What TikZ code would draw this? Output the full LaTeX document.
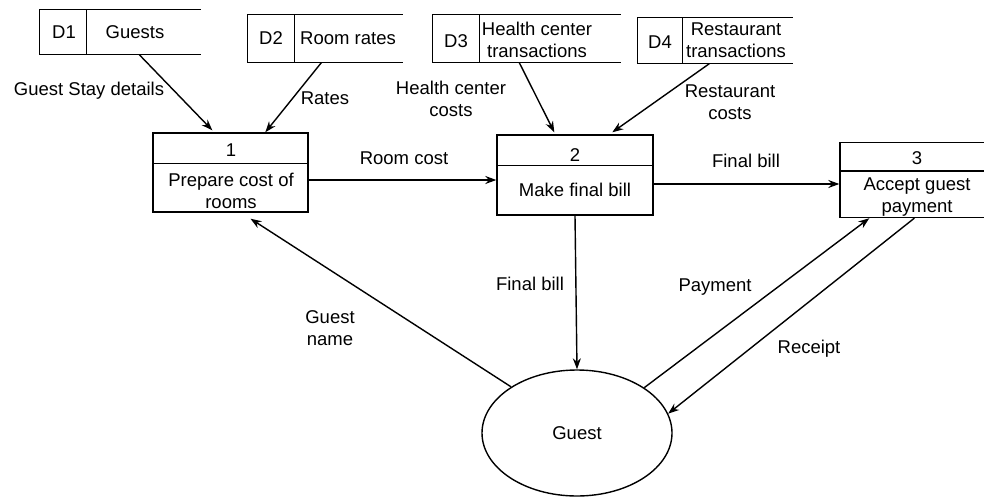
\documentclass[tikz,border=0pt]{standalone}
\usepackage{fontspec}
\setmainfont{Liberation Sans}
\usetikzlibrary{arrows.meta,shapes.geometric,calc}
\begin{document}
\begin{tikzpicture}[x=1pt,y=-1pt,line width=1.4pt,
  flow/.style={-{Stealth[length=11pt,width=8pt]}},
  lbl/.style={font=\fontsize{18.5}{21.5}\selectfont,align=center,inner sep=0pt},
  proc/.style={draw,rectangle,inner sep=0pt},
  store/.style={rectangle,inner sep=0pt}]
\useasboundingbox (0,0) rectangle (984,500);
\clip (0,0) rectangle (984,500);
\fill[white] (0,0) rectangle (984,500);

% data stores (open on the right)
\node[store,minimum width=160pt,minimum height=44pt] (d1) at (120,32) {};
\node[store,minimum width=154pt,minimum height=47pt] (d2) at (325,38.5) {};
\node[store,minimum width=187pt,minimum height=47pt] (d3) at (526.5,38.5) {};
\node[store,minimum width=154pt,minimum height=45pt] (d4) at (715,40.5) {};
\foreach \s/\dv in {d1/47,d2/47,d3/47,d4/45}{
  \draw (\s.north east) -- (\s.north west) -- (\s.south west) -- (\s.south east);
  \draw ($(\s.north west)+(\dv,0)$) -- ($(\s.south west)+(\dv,0)$);
}
\node[lbl] (d1id) at (64,32) {D1};
\node[lbl] (d1t) at (135,32) {Guests};
\node[lbl] (d2id) at (271,38) {D2};
\node[lbl] (d2t) at (348,38) {Room rates};
\node[lbl] (d3id) at (456,41) {D3};
\node[lbl] (d3t) at (537,40) {Health center\\transactions};
\node[lbl] (d4id) at (660,42) {D4};
\node[lbl] (d4t) at (736,40) {Restaurant\\transactions};

% processes
\node[proc,minimum width=155pt,minimum height=79pt] (p1) at (230.5,172.5) {};
\node[proc,minimum width=156pt,minimum height=80pt] (p2) at (575,175) {};
\node[proc,minimum width=156pt,minimum height=75pt] (p3) at (918,180) {};
\draw ($(p1.north west)+(0,31)$) -- ($(p1.north east)+(0,31)$);
\draw ($(p2.north west)+(0,31)$) -- ($(p2.north east)+(0,31)$);
\draw ($(p3.north west)+(0,29)$) -- ($(p3.north east)+(0,29)$);
\node[lbl] (p1n) at (231,150) {1};
\node[lbl] (p1t) at (231,191) {Prepare cost of\\rooms};
\node[lbl] (p2n) at (575,155) {2};
\node[lbl] (p2t) at (575,190) {Make final bill};
\node[lbl] (p3n) at (917,158) {3};
\node[lbl] (p3t) at (917,197) {Accept guest\\payment};

% external entity
\node[draw,ellipse,minimum width=190pt,minimum height=126pt,lbl,inner sep=0pt] (g) at (577,433) {Guest};

% flows
\draw[flow] ($(d1.south west)+(100,0)$) -- ($(p1.north west)+(60,-2)$);
\draw[flow] ($(d2.south west)+(74,0)$) -- ($(p2.north west)+(-231,-2)$);
\draw[flow] ($(d3.south west)+(87,0)$) -- ($(p2.north west)+(58,-2)$);
\draw[flow] ($(d4.south west)+(72,0)$) -- ($(p2.north west)+(116,-2)$);
\draw[flow] ($(p1.east)+(0,7.5)$) -- ($(p2.west)+(0,5)$);
\draw[flow] ($(p2.east)+(0,9)$) -- ($(p3.west)+(0,4)$);
\draw[flow] (p2.south) -- (g.north);
\draw[flow] (g.145) -- ($(p1.south)+(20,6)$);
\draw[flow] (g.34) -- ($(p3.south west)+(30,0)$);
\draw[flow] ($(p3.south west)+(75,0)$) -- (g.12);

% flow labels
\node[lbl] (l1) at (89,91) {Guest Stay details};
\node[lbl] (l2) at (325,98) {Rates};
\node[lbl] (l3) at (451,99) {Health center\\costs};
\node[lbl] (l4) at (730,102) {Restaurant\\costs};
\node[lbl] (l5) at (404,158) {Room cost};
\node[lbl] (l6) at (746,161) {Final bill};
\node[lbl] (l7) at (530,284) {Final bill};
\node[lbl] (l8) at (330,328) {Guest\\name};
\node[lbl] (l9) at (715,287) {Payment};
\node[lbl] (l10) at (809,349) {Receipt};
\end{tikzpicture}
\end{document}
